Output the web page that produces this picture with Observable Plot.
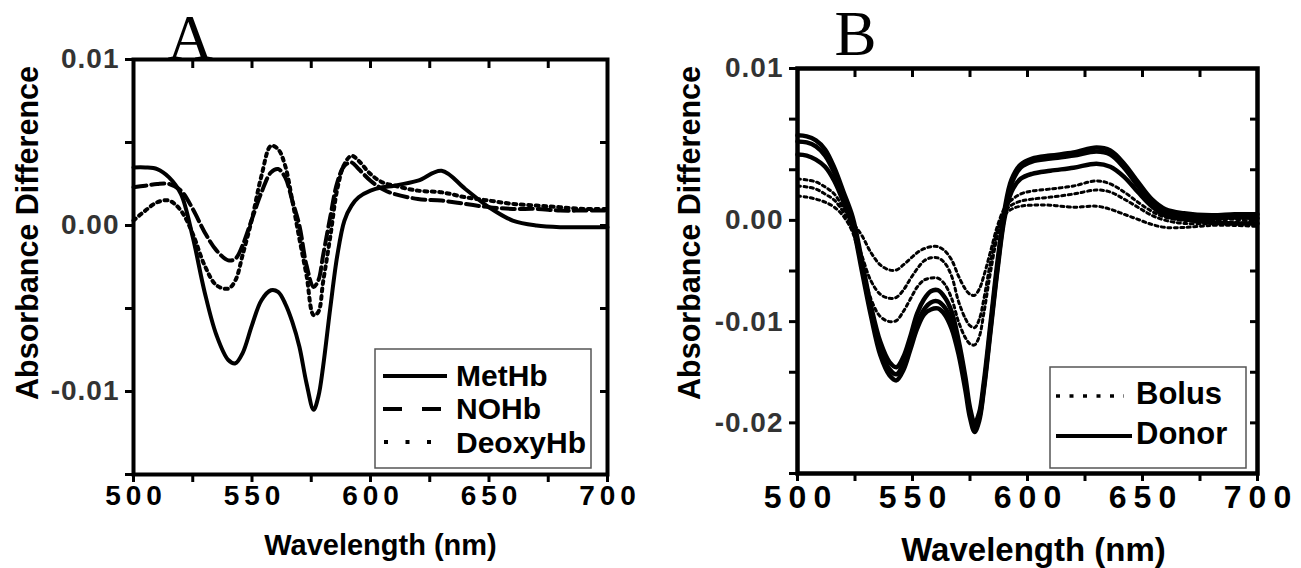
<!DOCTYPE html>
<html>
<head>
<meta charset="utf-8">
<script src="https://cdn.jsdelivr.net/npm/d3@7"></script>
<script src="https://cdn.jsdelivr.net/npm/@observablehq/plot@0.6"></script>
<style>
  html, body { margin: 0; padding: 0; background: #fff; }
  #wrap { position: relative; width: 1301px; height: 568px; overflow: hidden; background: #fff; }
  .panel { position: absolute; top: 0; }
  #pa { left: 0; }
  #pb { left: 650px; }
  #overlay { position: absolute; left: 0; top: 0; pointer-events: none; }
  #pa g[aria-label="x-axis tick label"] text { letter-spacing: 5px; }
  #pb g[aria-label="x-axis tick label"] text { letter-spacing: 7px; }
  g[aria-label="y-axis tick label"] text { letter-spacing: 1px; }
</style>
</head>
<body>
<div id="wrap">
  <div id="pa" class="panel"></div>
  <div id="pb" class="panel"></div>
  <svg id="overlay" width="1301" height="568"></svg>
</div>
<script>
// ---------- Panel A data ----------
const wavelengthA = [500,505,510,515,520,525,530,535,540,543,546,550,554,558,561,564,567,570,573,576,578,580,583,586,589,592,595,600,605,610,620,630,640,650,660,670,680,690,700];
const metHb   = [0.0035,0.0035,0.0034,0.0029,0.0019,-0.0007,-0.0040,-0.0066,-0.0081,-0.0083,-0.0077,-0.0060,-0.0045,-0.0039,-0.0040,-0.0047,-0.0058,-0.0073,-0.0095,-0.0111,-0.0103,-0.0085,-0.0050,-0.0018,0.0003,0.0012,0.0017,0.0021,0.0023,0.0024,0.0027,0.0033,0.0022,0.0011,0.0003,0.0000,-0.0001,-0.0001,-0.0001];
const noHb    = [0.0023,0.0024,0.0025,0.0025,0.0021,0.0010,-0.0004,-0.0015,-0.0021,-0.0020,-0.0012,0.0004,0.0020,0.0032,0.0034,0.0029,0.0015,0.0000,-0.0024,-0.0037,-0.0033,-0.0018,0.0005,0.0026,0.0036,0.0038,0.0034,0.0027,0.0022,0.0019,0.0016,0.0015,0.0013,0.0011,0.0010,0.0010,0.0009,0.0009,0.0009];
const deoxyHb = [0.0003,0.0009,0.0014,0.0015,0.0009,-0.0005,-0.0024,-0.0036,-0.0038,-0.0033,-0.0018,0.0004,0.0030,0.0048,0.0046,0.0036,0.0015,-0.0008,-0.0030,-0.0054,-0.0052,-0.0034,-0.0007,0.0022,0.0037,0.0042,0.0039,0.0031,0.0026,0.0024,0.0021,0.0020,0.0017,0.0015,0.0013,0.0012,0.0011,0.0010,0.0010];

// ---------- Panel B data ----------
const wavelengthB = [500,504,508,512,516,520,524,528,532,536,540,543,546,549,552,555,558,561,564,567,570,573,575,577,579,581,584,587,590,593,597,602,610,620,630,636,642,648,654,660,668,680,690,700];
const donor1 = [0.0084,0.0083,0.0079,0.0070,0.0052,0.0028,0.0003,-0.0040,-0.0085,-0.0120,-0.0140,-0.0145,-0.0135,-0.0115,-0.0092,-0.0078,-0.0070,-0.0069,-0.0076,-0.0090,-0.0118,-0.0155,-0.0185,-0.0200,-0.0190,-0.0160,-0.0100,-0.0040,0.0010,0.0040,0.0055,0.0061,0.0064,0.0067,0.0072,0.0069,0.0056,0.0038,0.0021,0.0011,0.0007,0.0005,0.0006,0.0006];
const donor2 = [0.0078,0.0077,0.0073,0.0064,0.0047,0.0024,-0.0001,-0.0045,-0.0090,-0.0127,-0.0147,-0.0152,-0.0142,-0.0122,-0.0102,-0.0088,-0.0081,-0.0080,-0.0086,-0.0100,-0.0126,-0.0162,-0.0190,-0.0205,-0.0195,-0.0165,-0.0105,-0.0045,0.0006,0.0036,0.0052,0.0058,0.0061,0.0064,0.0068,0.0065,0.0052,0.0034,0.0018,0.0008,0.0004,0.0002,0.0003,0.0002];
const donor3 = [0.0065,0.0064,0.0060,0.0053,0.0039,0.0018,-0.0006,-0.0050,-0.0095,-0.0133,-0.0153,-0.0158,-0.0148,-0.0128,-0.0107,-0.0093,-0.0088,-0.0087,-0.0093,-0.0107,-0.0132,-0.0168,-0.0195,-0.0209,-0.0198,-0.0168,-0.0108,-0.0048,0.0002,0.0028,0.0041,0.0046,0.0049,0.0052,0.0056,0.0053,0.0043,0.0028,0.0014,0.0005,0.0001,-0.0002,-0.0003,-0.0003];
const bolus1 = [0.0041,0.0040,0.0038,0.0033,0.0026,0.0012,-0.0002,-0.0015,-0.0032,-0.0044,-0.0049,-0.0049,-0.0044,-0.0038,-0.0032,-0.0028,-0.0026,-0.0026,-0.0030,-0.0039,-0.0055,-0.0068,-0.0073,-0.0074,-0.0068,-0.0055,-0.0030,-0.0005,0.0012,0.0020,0.0026,0.0029,0.0031,0.0034,0.0039,0.0036,0.0028,0.0018,0.0009,0.0003,0.0000,0.0000,0.0001,-0.0002];
const bolus2 = [0.0034,0.0033,0.0031,0.0026,0.0020,0.0008,-0.0008,-0.0035,-0.0060,-0.0073,-0.0077,-0.0076,-0.0069,-0.0058,-0.0048,-0.0040,-0.0037,-0.0037,-0.0042,-0.0055,-0.0080,-0.0097,-0.0104,-0.0106,-0.0098,-0.0078,-0.0040,-0.0010,0.0008,0.0015,0.0019,0.0021,0.0023,0.0026,0.0030,0.0028,0.0021,0.0013,0.0005,0.0000,-0.0003,-0.0003,-0.0002,-0.0004];
const bolus3 = [0.0024,0.0023,0.0021,0.0018,0.0013,0.0004,-0.0012,-0.0045,-0.0078,-0.0095,-0.0100,-0.0099,-0.0090,-0.0078,-0.0066,-0.0059,-0.0057,-0.0057,-0.0063,-0.0077,-0.0100,-0.0116,-0.0122,-0.0123,-0.0115,-0.0092,-0.0050,-0.0015,0.0005,0.0011,0.0014,0.0015,0.0015,0.0013,0.0014,0.0011,0.0006,0.0001,-0.0004,-0.0007,-0.0007,-0.0005,-0.0005,-0.0006];

// ---------- Ticks and labels ----------
const xMajorTicks = [500,550,600,650,700];
const xMinorTicks = [500,525,550,575,600,625,650,675,700];
const yTicksA = [0.01,0,-0.01];
const yLabelsA = ["0.01","0.00","-0.01"];
const yMinorA = [0.01,0.005,0,-0.005,-0.01,-0.015];
const yTicksB = [0.015,0,-0.01,-0.02];
const yLabelsB = ["0.01","0.00","-0.01","-0.02"];
const yMinorB = [0.015,0.01,0.005,0,-0.005,-0.01,-0.015,-0.02,-0.025];
const xTitle = "Wavelength (nm)";
const yTitle = "Absorbance Difference";
const legendA = ["MetHb","NOHb","DeoxyHb"];
const legendB = ["Bolus","Donor"];

const SANS = "Liberation Sans, Arial, Helvetica, sans-serif";
const SERIF = "Liberation Serif, Times New Roman, serif";
const rows = (xs, ys) => xs.map((x, i) => ({wl: x, v: ys[i]}));

function frameAxes(yMinor, yTicks, yLabels, opts) {
  const labelMap = new Map(yTicks.map((t, i) => [t, yLabels[i]]));
  return [
    Plot.frame({stroke: "#000", strokeWidth: opts.frameW}),
    Plot.axisX({anchor: "bottom", ticks: xMinorTicks, tickSize: 8, strokeWidth: 3, fill: "none", label: null}),
    Plot.axisX({anchor: "top", ticks: xMinorTicks, tickSize: 8, dy: 8, strokeWidth: 3, fill: "none", label: null}),
    Plot.axisY({anchor: "left", ticks: yMinor, tickSize: 8, strokeWidth: 3, fill: "none", label: null}),
    Plot.axisY({anchor: "right", ticks: yMinor, tickSize: 8, dx: -8, strokeWidth: 3, fill: "none", label: null}),
    Plot.axisX({anchor: "bottom", ticks: xMajorTicks, tickSize: 0, tickPadding: opts.xPad, dx: opts.xDx,
      tickFormat: d => String(d), fontSize: opts.xFont, fontWeight: "bold", fontFamily: SANS, fill: "#000", label: null}),
    Plot.axisY({anchor: "left", ticks: yTicks, tickSize: 0, tickPadding: 14,
      tickFormat: d => labelMap.get(d), fontSize: opts.yFont, fontWeight: "bold", fontFamily: SANS, fill: "#333", label: null}),
    Plot.text([xTitle], {frameAnchor: "bottom", textAnchor: "middle", dx: opts.xTitleDx, dy: opts.xTitleDy, fontSize: opts.titleFont, fontWeight: "bold", fontFamily: SANS, fill: "#000"}),
    Plot.text([yTitle], {frameAnchor: "left", textAnchor: "middle", lineAnchor: "middle", rotate: -90, dx: opts.yTitleDx, dy: opts.yTitleDy, fontSize: opts.yTitleFont, fontWeight: "bold", fontFamily: SANS, fill: "#000"}),
    Plot.text([opts.letter], {frameAnchor: "top-left", textAnchor: "start", lineAnchor: "bottom", dx: opts.letterDx, dy: opts.letterDy, fontSize: 63, fontFamily: SERIF, fill: "#000"})
  ];
}

const plotA = Plot.plot({
  width: 650, height: 568,
  marginLeft: 133, marginRight: 43, marginTop: 59, marginBottom: 94,
  x: {domain: [500, 700], axis: null},
  y: {domain: [-0.015, 0.01], axis: null},
  style: {background: "transparent", overflow: "visible"},
  marks: [
    Plot.line(rows(wavelengthA, deoxyHb), {x: "wl", y: "v", stroke: "#000", strokeWidth: 4, strokeDasharray: "3,4.5", curve: "catmull-rom"}),
    Plot.line(rows(wavelengthA, noHb), {x: "wl", y: "v", stroke: "#000", strokeWidth: 4, strokeDasharray: "13,5", curve: "catmull-rom"}),
    Plot.line(rows(wavelengthA, metHb), {x: "wl", y: "v", stroke: "#000", strokeWidth: 4, curve: "catmull-rom"}),
    ...frameAxes(yMinorA, yTicksA, yLabelsA, {frameW: 4, xPad: 11, xDx: 2.5, xFont: 28, yFont: 28, titleFont: 29,
      xTitleDx: 10, xTitleDy: 80, yTitleDx: -105, yTitleDy: -34, yTitleFont: 30.5, letter: "A", letterDx: 34, letterDy: -1})
  ]
});

const plotB = Plot.plot({
  width: 651, height: 568,
  marginLeft: 147, marginRight: 44, marginTop: 68, marginBottom: 95,
  x: {domain: [500, 700], axis: null},
  y: {domain: [-0.025, 0.015], axis: null},
  style: {background: "transparent", overflow: "visible"},
  marks: [
    ...[bolus1, bolus2, bolus3].map(s => Plot.line(rows(wavelengthB, s), {x: "wl", y: "v", stroke: "#000", strokeWidth: 3, strokeDasharray: "3,3.5", curve: "catmull-rom"})),
    ...[donor1, donor2, donor3].map(s => Plot.line(rows(wavelengthB, s), {x: "wl", y: "v", stroke: "#000", strokeWidth: 4.5, curve: "catmull-rom"})),
    ...frameAxes(yMinorB, yTicksB, yLabelsB, {frameW: 4.5, xPad: 12, xDx: 3.5, xFont: 32, yFont: 28, titleFont: 33,
      xTitleDx: 6, xTitleDy: 87, yTitleDx: -107, yTitleDy: -38, yTitleFont: 30.5, letter: "B", letterDx: 37, letterDy: -14})
  ]
});

document.getElementById("pa").appendChild(plotA);
document.getElementById("pb").appendChild(plotB);

// ---------- Legends (overlay) ----------
const ov = d3.select("#overlay");
function legend(box, items) {
  const g = ov.append("g");
  g.append("rect").attr("x", box.x).attr("y", box.y).attr("width", box.w).attr("height", box.h)
    .attr("fill", "#fff").attr("stroke", "#555").attr("stroke-width", 1.5);
  items.forEach(it => {
    g.append("line").attr("x1", it.x1).attr("x2", it.x2).attr("y1", it.y).attr("y2", it.y)
      .attr("stroke", "#000").attr("stroke-width", it.w).attr("stroke-dasharray", it.dash || null);
    g.append("text").attr("x", it.tx).attr("y", it.base).text(it.label)
      .attr("font-family", SANS).attr("font-weight", "bold").attr("font-size", box.fs).attr("fill", "#000");
  });
}
legend({x: 375, y: 349, w: 216, h: 119, fs: 30}, [
  {label: legendA[0], x1: 383, x2: 447, y: 376, w: 4, tx: 456, base: 386},
  {label: legendA[1], x1: 383, x2: 442, y: 409, w: 4, dash: "19,20", tx: 456, base: 419},
  {label: legendA[2], x1: 384, x2: 432, y: 442, w: 4, dash: "4,17.5", tx: 456, base: 453}
]);
legend({x: 1050, y: 367, w: 196, h: 101, fs: 31}, [
  {label: legendB[0], x1: 1056, x2: 1124, y: 396, w: 3.5, dash: "4,9.5", tx: 1136, base: 404},
  {label: legendB[1], x1: 1056, x2: 1132, y: 436, w: 4, tx: 1136, base: 444}
]);
</script>
</body>
</html>
